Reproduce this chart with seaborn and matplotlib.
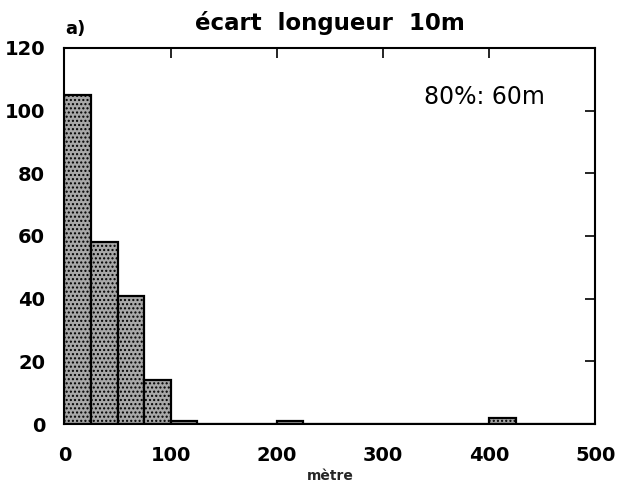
import numpy as np
import pandas as pd
import matplotlib
matplotlib.use('Agg')
import matplotlib.pyplot as plt
import seaborn as sns

# bin left edges (m) and counts
bin_left = [0, 25, 50, 75, 100, 200, 400]
counts = [105, 58, 41, 14, 1, 1, 2]
bin_edges = list(range(0, 525, 25))

df = pd.DataFrame({'ecart': bin_left, 'n': counts})

sns.set_theme(style="white")
plt.rcParams['font.family'] = ['DejaVu Sans']
plt.rcParams['text.color'] = 'black'
plt.rcParams['xtick.color'] = 'black'
plt.rcParams['ytick.color'] = 'black'
plt.rcParams['hatch.color'] = '#555555'

fig = plt.figure(figsize=(6.2, 4.88), dpi=100)
ax = fig.add_axes([0.104, 0.131, 0.856, 0.771])

sns.histplot(data=df, x='ecart', weights='n', bins=bin_edges, ax=ax,
             color='#a8a8a8', alpha=1, edgecolor='black', linewidth=1.6,
             hatch='....')

ax.set_xlim(0, 500)
ax.set_ylim(0, 120)
ax.set_xticks([0, 100, 200, 300, 400, 500])
ax.set_yticks([0, 20, 40, 60, 80, 100, 120])
ax.tick_params(direction='in', length=7, width=1.2, top=True, right=True,
               labelsize=14, color='black')
ax.tick_params(axis='x', pad=16)
ax.tick_params(axis='y', pad=14)
for lab in ax.get_xticklabels() + ax.get_yticklabels():
    lab.set_fontweight('bold')
for s in ax.spines.values():
    s.set_color('black')
    s.set_linewidth(1.5)

ax.set_ylabel('')
ax.set_xlabel('mètre', fontsize=10, fontweight='semibold', labelpad=3)
ax.text(0.5, 1.048, 'écart  longueur  10m', transform=ax.transAxes,
        ha='center', va='baseline', fontsize=16.5, fontweight='bold')
fig.text(0.105, 0.93, 'a)', ha='left', va='baseline', fontsize=13, fontweight='bold')
ax.text(396, 104.3, '80%: 60m', ha='center', va='center', fontsize=17)

plt.savefig('out.png', dpi=100)
